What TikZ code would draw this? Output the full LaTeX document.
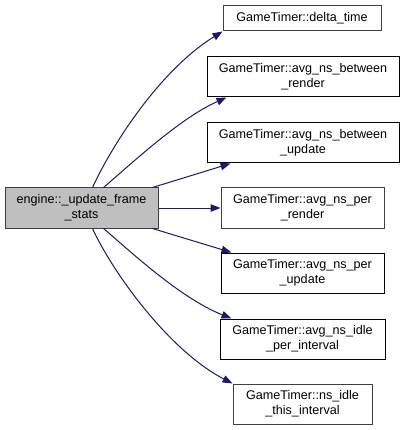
\documentclass[tikz,border=0pt]{standalone}
\usepackage{fontspec}
\setmainfont{Liberation Sans}
\usetikzlibrary{arrows.meta}
\definecolor{edgeblue}{HTML}{191970}
\definecolor{mainfill}{HTML}{BFBFBF}
\definecolor{mainborder}{HTML}{404040}
\begin{document}
\begin{tikzpicture}[x=1pt,y=-1pt,
  fn/.style={draw=black,fill=white,line width=1pt,inner sep=0pt,align=center,
    font=\fontsize{12.6}{15}\selectfont},
  mainnode/.style={fn,draw=mainborder,fill=mainfill},
  call/.style={draw=edgeblue,line width=1pt,-{Triangle[length=10pt,width=7.5pt]},edgeblue}]
\useasboundingbox (0,0) rectangle (404,430);
\node[mainnode,minimum width=153pt,minimum height=40pt] (main) at (81.5,208) {engine::\_update\_frame\\\_stats};
\node[fn,draw=mainborder,minimum width=158pt,minimum height=25pt] (dt) at (302,18.5) {GameTimer::delta\_time};
\node[fn,minimum width=192pt,minimum height=40pt] (br) at (303,77) {GameTimer::avg\_ns\_between\\\_render};
\node[fn,minimum width=192pt,minimum height=40pt] (bu) at (303,143) {GameTimer::avg\_ns\_between\\\_update};
\node[fn,draw=mainborder,minimum width=163pt,minimum height=40pt] (pr) at (302.5,208) {GameTimer::avg\_ns\_per\\\_render};
\node[fn,minimum width=163pt,minimum height=40pt] (pu) at (302.5,273) {GameTimer::avg\_ns\_per\\\_update};
\node[fn,minimum width=165pt,minimum height=40pt] (ipi) at (302.5,339) {GameTimer::avg\_ns\_idle\\\_per\_interval};
\node[fn,draw=mainborder,minimum width=139pt,minimum height=40pt] (tii) at (302.5,404) {GameTimer::ns\_idle\\\_this\_interval};

\draw[call] (main.north west) ++(88,0) .. controls (112,145) and (160,70) .. (dt.south west);
\draw[call] (main.north west) ++(99,0) .. controls (130,165) and (180,118) .. ([xshift=20pt]br.south west);
\draw[call] (main.north east) ++(-6,0) -- ([xshift=24pt]bu.south west);
\draw[call] (main.east) -- (pr.west);
\draw[call] (main.south east) ++(-6,0) -- ([xshift=11pt]pu.north west);
\draw[call] (main.south west) ++(99,0) .. controls (130,251) and (180,298) .. ([xshift=12pt]ipi.north west);
\draw[call] (main.south west) ++(88,0) .. controls (112,271) and (168,350) .. (tii.north west);
\end{tikzpicture}
\end{document}
